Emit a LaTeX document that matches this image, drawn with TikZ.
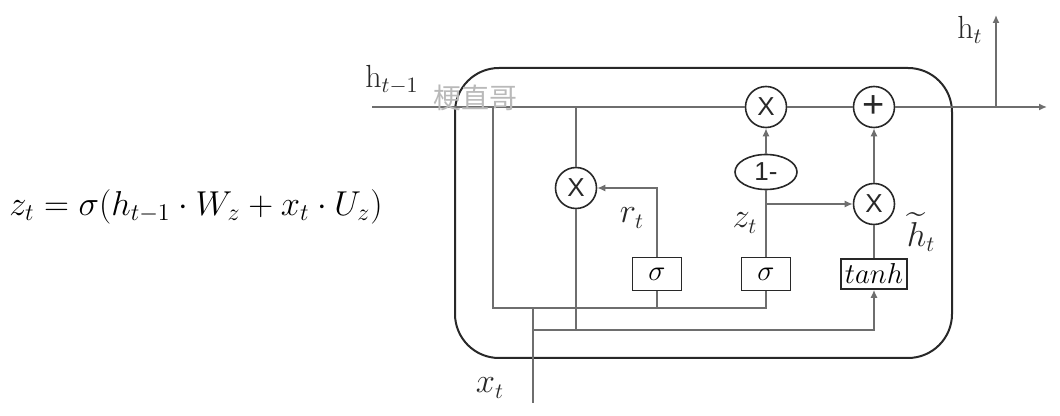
\documentclass[tikz,border=0pt]{standalone}
\usepackage{fontspec}
\usepackage{amsmath}
\usetikzlibrary{arrows.meta,shapes.geometric,positioning,calc}
\newfontfamily\opfont{Liberation Sans}
\newfontfamily\cjkfont{Noto Sans CJK SC}
\definecolor{LineGray}{RGB}{110,110,110}
\definecolor{DarkText}{RGB}{40,40,40}
\tikzset{
  wire/.style={draw=LineGray,line width=0.7pt},
  arr/.style={wire,-{Latex[length=4pt,width=3.5pt]}},
  opcirc/.style={circle,draw=DarkText,line width=0.8pt,minimum size=20.5pt,
                 inner sep=0pt,font=\opfont\fontsize{13}{13}\selectfont,text=DarkText},
  gatebox/.style={rectangle,draw=DarkText,line width=0.8pt,fill=white,
                  inner sep=0pt,font=\fontsize{15}{15}\selectfont},
  lbl/.style={font=\fontsize{16}{18}\selectfont,text=DarkText,inner sep=1pt},
}
\begin{document}
\begin{tikzpicture}[x=0.5pt,y=-0.5pt]
  \useasboundingbox (0,0) rectangle (1060,416);
  % Draw cell
  \draw[DarkText,line width=1pt,rounded corners=22pt] (455,68) rectangle (952,358);

  % Formula
  \node[font=\fontsize{17.5}{20}\selectfont] (eq) at (196,207)
    {$z_t=\sigma(h_{t-1}\cdot W_z+x_t\cdot U_z)$};

  % Draw operators
  \node[opcirc] (mulf) at (766,107) {X};
  \node[opcirc] (plus) at (874,107) {\fontsize{19}{19}\selectfont +};
  \node[opcirc] (mulr) at (576,188) {X};
  \node[opcirc] (mulh) at (874,204) {X};
  \node[ellipse,draw=DarkText,line width=0.8pt,minimum width=31pt,minimum height=17.5pt,
        inner sep=0pt,font=\opfont\fontsize{13}{13}\selectfont,text=DarkText] (onem) at (766,172) {1-};
  \node[gatebox,minimum width=24.5pt,minimum height=16.5pt] (sigr) at (657,274) {$\sigma$};
  \node[gatebox,minimum width=24.5pt,minimum height=16.5pt] (sigz) at (766,274) {$\sigma$};
  \node[gatebox,minimum width=33pt,minimum height=15pt,font=\fontsize{14}{14}\selectfont] (tanhbox) at (874,274) {$tanh$};

  % Coordinates
  \coordinate (hin) at (372,107);
  \coordinate (hout) at (1047,107);
  \coordinate (hbr) at (996,107);
  \coordinate (htop) at (996,15);
  \coordinate (ha) at (493,107);
  \coordinate (hb) at (576,107);
  \coordinate (low1) at (493,308);
  \coordinate (xbot) at (533,403);
  \coordinate (xtop) at (533,308);
  \coordinate (low2) at (533,330);

  % h line
  \draw[wire] (hin) -- (mulf.west);
  \draw[wire] (mulf.east) -- (plus.west);
  \draw[arr] (plus.east) -- (hout);
  \draw[arr] (hbr) -- (htop);

  % inputs
  \draw[wire] (ha) -- (low1) -| (sigz.south);
  \draw[wire] (sigr.south) -- (sigr.south |- low1);
  \draw[wire] (hb) -- (mulr.north);
  \draw[wire] (xbot) -- (xtop);
  \draw[arr] (low2) -| (tanhbox.south);
  \draw[wire] (mulr.south) -- (mulr.south |- low2);

  % gates
  \draw[arr] (sigr.north) |- (mulr.east);
  \draw[wire] (sigz.north) -- (onem.south);
  \draw[arr] (onem.north) -- (mulf.south);
  \draw[arr] (sigz.north |- mulh) -- (mulh.west);
  \draw[wire] (tanhbox.north) -- (mulh.south);
  \draw[arr] (mulh.north) -- (plus.south);

  % labels
  \node[lbl] (lhprev) at (392,80) {$\mathrm{h}_{t-1}$};
  \node[lbl] (lht) at (970,30) {$\mathrm{h}_t$};
  \node[lbl] (lxt) at (490,388) {$x_t$};
  \node[lbl] (lrt) at (632,218) {$r_t$};
  \node[lbl] (lzt) at (745,223) {$z_t$};
  \node[lbl] (lhtil) at (921,232) {$\widetilde{h}_t$};
  \node[font=\cjkfont\fontsize{14}{14}\selectfont,text=gray!55] (mark) at (475,98) {梗直哥};
\end{tikzpicture}
\end{document}
